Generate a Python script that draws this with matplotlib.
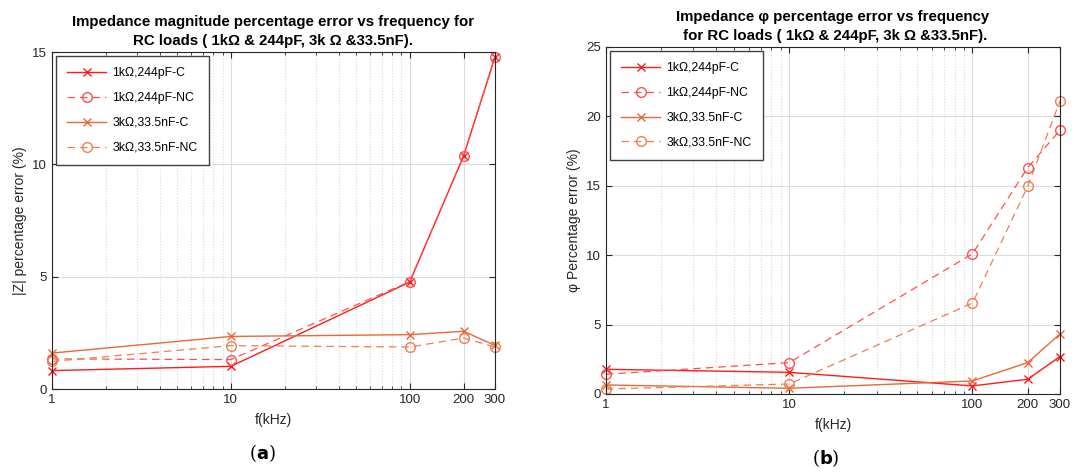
import matplotlib
matplotlib.use("Agg")
import matplotlib.pyplot as plt
import numpy as np
from matplotlib.ticker import FixedLocator, NullFormatter, LogLocator

plt.rcParams['font.family'] = ['Liberation Sans', 'DejaVu Sans']

# 频率点 (kHz)
freq = [1, 10, 100, 200, 300]
labels = ['1k\u03a9,244pF-C', '1k\u03a9,244pF-NC', '3k\u03a9,33.5nF-C', '3k\u03a9,33.5nF-NC']

# |Z| 百分比误差
z_1k_c = [0.82, 1.01, 4.76, 10.36, 14.78]
z_1k_nc = [1.34, 1.31, 4.78, 10.37, 14.80]
z_3k_c = [1.60, 2.34, 2.42, 2.57, 1.94]
z_3k_nc = [1.23, 1.93, 1.87, 2.27, 1.87]

# φ 百分比误差
p_1k_c = [1.78, 1.56, 0.58, 1.06, 2.69]
p_1k_nc = [1.42, 2.26, 10.1, 16.3, 19.0]
p_3k_c = [0.65, 0.41, 0.94, 2.26, 4.32]
p_3k_nc = [0.36, 0.72, 6.55, 14.95, 21.1]

red = '#ff1a1a'
orange = '#e8683a'
styles = [
    dict(color=red, linestyle='-', marker='x', markersize=5.5, linewidth=1.0),
    dict(color='#ff5050', linestyle=(0, (6, 4)), marker='o', markersize=7, markerfacecolor='none', linewidth=0.9),
    dict(color=orange, linestyle='-', marker='x', markersize=5.5, linewidth=1.0),
    dict(color='#ec8050', linestyle=(0, (6, 4)), marker='o', markersize=7, markerfacecolor='none', linewidth=0.9),
]

fig = plt.figure(figsize=(10.74, 4.72), dpi=100)
ax1 = fig.add_axes([0.0484, 0.1758, 0.4125, 0.714])
ax2 = fig.add_axes([0.5642, 0.1653, 0.4227, 0.7352])


def setup(ax, ymax, title, ylabel):
    ax.set_xscale('log')
    ax.set_xlim(1, 300)
    ax.set_ylim(0, ymax)
    ax.xaxis.set_major_locator(FixedLocator(freq))
    ax.set_xticklabels([str(f) for f in freq])
    ax.xaxis.set_minor_locator(LogLocator(base=10, subs=np.arange(2, 10)))
    ax.xaxis.set_minor_formatter(NullFormatter())
    ax.set_yticks(np.arange(0, ymax + 1, 5))
    ax.tick_params(which='both', direction='in', top=True, right=True, labelsize=9.5, colors='#262626')
    ax.tick_params(which='major', length=4)
    ax.tick_params(which='minor', length=2.5)
    ax.grid(True, which='major', color='#dcdcdc', linewidth=0.8)
    ax.grid(True, which='minor', axis='x', color='#d8d8d8', linestyle=':', linewidth=0.8)
    ax.set_axisbelow(True)
    for s in ax.spines.values():
        s.set_color('#262626')
        s.set_linewidth(0.8)
    ax.set_title(title, fontsize=10.8, fontweight='bold', pad=5, linespacing=1.45)
    ax.set_xlabel('f(kHz)', fontsize=10, color='#262626', labelpad=5)
    ax.set_ylabel(ylabel, fontsize=10, color='#262626')


setup(ax1, 15, 'Impedance magnitude percentage error vs frequency for\nRC loads ( 1k\u03a9 & 244pF, 3k \u03a9 &33.5nF).',
      '|Z| percentage error (%)')
setup(ax2, 25, 'Impedance \u03c6 percentage error vs frequency\n for RC loads ( 1k\u03a9 & 244pF, 3k \u03a9 &33.5nF).',
      '\u03c6 Percentage error (%)')

for ys, st, lb in zip([z_1k_c, z_1k_nc, z_3k_c, z_3k_nc], styles, labels):
    ax1.plot(freq, ys, label=lb, clip_on=False, **st)
for ys, st, lb in zip([p_1k_c, p_1k_nc, p_3k_c, p_3k_nc], styles, labels):
    ax2.plot(freq, ys, label=lb, clip_on=False, **st)

for ax in (ax1, ax2):
    leg = ax.legend(loc='upper left', fontsize=8.8, labelspacing=1.05, handlelength=3.2,
                    handletextpad=0.5, borderpad=0.9, fancybox=False, edgecolor='#404040',
                    framealpha=1, borderaxespad=0.35)
    leg.get_frame().set_linewidth(1.0)

# 子图标号
fig.text(0.244, 0.04, r'($\mathbf{a}$)', ha='center', va='center', fontsize=13, family='DejaVu Serif')
fig.text(0.769, 0.03, r'($\mathbf{b}$)', ha='center', va='center', fontsize=13, family='DejaVu Serif')

plt.savefig('out.png', dpi=100)
